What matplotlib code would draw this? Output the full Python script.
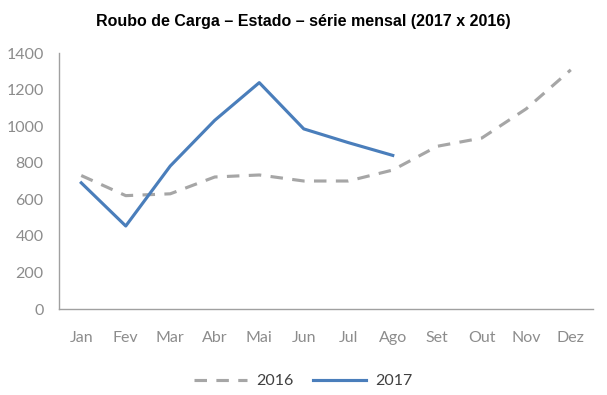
import matplotlib
matplotlib.use("Agg")
import matplotlib.pyplot as plt

# Roubo de carga - series mensais
meses = ["Jan", "Fev", "Mar", "Abr", "Mai", "Jun", "Jul", "Ago", "Set", "Out", "Nov", "Dez"]
serie_2016 = [730, 620, 630, 722, 733, 700, 700, 760, 890, 935, 1095, 1308]
serie_2017 = [690, 454, 782, 1032, 1238, 985, 910, 840]

gray = "#a6a6a6"
blue = "#4a7ebb"
tick_gray = "#8c8c8c"

fig = plt.figure(figsize=(6.07, 3.95), dpi=100)
ax = fig.add_axes([0.0972, 0.2177, 0.8798, 0.6481])

x16 = range(len(serie_2016))
x17 = range(len(serie_2017))
ax.plot(x16, serie_2016, color=gray, lw=2.25, dashes=(4, 3), label="2016")
ax.plot(x17, serie_2017, color=blue, lw=2.25, label="2017")

ax.set_xlim(-0.5, 11.5)
ax.set_ylim(0, 1400)
ax.set_yticks(range(0, 1401, 200))
ax.set_xticks(range(12))
ax.set_xticklabels(meses)

for s in ["top", "right"]:
    ax.spines[s].set_visible(False)
for s in ["left", "bottom"]:
    ax.spines[s].set_color("#a0a0a0")
    ax.spines[s].set_linewidth(1)
ax.tick_params(length=0, labelsize=11.5, labelcolor=tick_gray)
ax.tick_params(axis="x", pad=16)
ax.tick_params(axis="y", pad=11)
for lab in ax.get_xticklabels() + ax.get_yticklabels():
    lab.set_family("Lato")

fig.suptitle("Roubo de Carga – Estado – série mensal (2017 x 2016)",
             fontsize=11.5, fontweight="bold", family="Liberation Sans", y=0.965)

fig.legend(loc="center", bbox_to_anchor=(0.5, 0.035), ncol=2, frameon=False,
           prop={"family": "Lato", "size": 11.5}, handlelength=3.3, columnspacing=1.2,
           handletextpad=0.6, labelcolor="#404040")

fig.savefig("out.png", dpi=100)
